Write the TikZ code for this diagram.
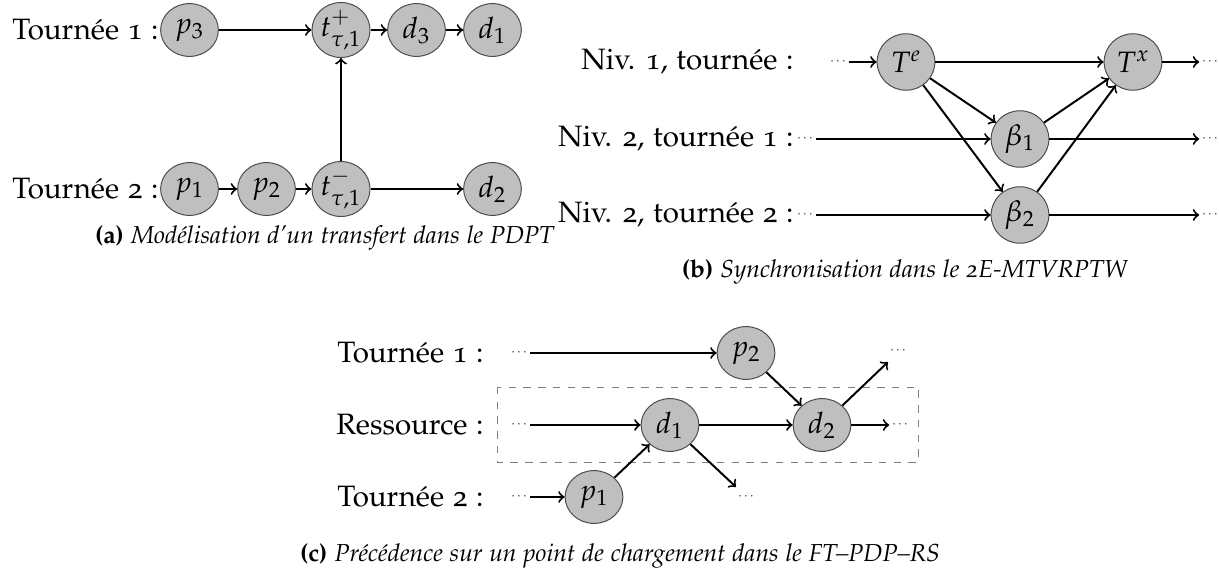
\documentclass[tikz,border=0pt]{standalone}
\usepackage[T1]{fontenc}
\usepackage[osf]{mathpazo}
\usetikzlibrary{positioning,shapes.geometric,arrows}
\tikzstyle{sommet}=[ellipse, draw=black!70, fill=black!25, minimum width=23.5pt,
        minimum height=21.5pt, inner sep=0pt, font=\large]
\tikzstyle{etiquette}=[anchor=east, inner sep=0pt, font=\large]
\tikzstyle{points}=[inner sep=1pt, font=\tiny]
\tikzstyle{legende}=[inner sep=0pt, font=\normalsize]
\tikzstyle{fleche}=[->, thick]

\begin{document}
\begin{tikzpicture}[x=0.407pt, y=-0.407pt]
        \useasboundingbox (0,0) rectangle (1219,581);
        % (a) transfert
        \node (tour1a) [etiquette] at (159,30) {Tourn\'ee 1 :};
        \node (tour2a) [etiquette] at (159,189) {Tourn\'ee 2 :};
        \node (p3a) [sommet] at (189.5,30) {$p_3$};
        \node (tpa) [sommet] at (341,30) {$t^{+}_{\tau,1}$};
        \node (d3a) [sommet] at (416.5,30) {$d_3$};
        \node (d1a) [sommet] at (492.5,30) {$d_1$};
        \node (p1a) [sommet] at (189.5,189) {$p_1$};
        \node (p2a) [sommet] at (266.5,189) {$p_2$};
        \node (tma) [sommet] at (341,189) {$t^{-}_{\tau,1}$};
        \node (d2a) [sommet] at (492.5,189) {$d_2$};
        \draw[fleche] (p3a) -- (tpa);
        \draw[fleche] (tpa) -- (d3a);
        \draw[fleche] (d3a) -- (d1a);
        \draw[fleche] (p1a) -- (p2a);
        \draw[fleche] (p2a) -- (tma);
        \draw[fleche] (tma) -- (d2a);
        \draw[fleche] (tma) -- (tpa);
        \node (lega) [legende] at (325,238) {\textbf{(a)} \textit{Mod\'elisation d'un transfert dans le PDPT}};

        % (b) synchronisation
        \node (niv1) [etiquette] at (794,62) {Niv. 1, tourn\'ee :};
        \node (niv21) [etiquette] at (794,139) {Niv. 2, tourn\'ee 1 :};
        \node (niv22) [etiquette] at (794,215) {Niv. 2, tourn\'ee 2 :};
        \node (g1) [points] at (838,62) {$\cdots$};
        \node (g2) [points] at (805,139) {$\cdots$};
        \node (g3) [points] at (805,215) {$\cdots$};
        \node (r1) [points] at (1210,62) {$\cdots$};
        \node (r2) [points] at (1210,139) {$\cdots$};
        \node (r3) [points] at (1210,215) {$\cdots$};
        \node (Te) [sommet, minimum height=23pt] at (906,62) {$T^{e}$};
        \node (Tx) [sommet, minimum height=23pt] at (1133,62) {$T^{x}$};
        \node (b1) [sommet, minimum height=23pt] at (1020,139) {$\beta_1$};
        \node (b2) [sommet, minimum height=23pt] at (1020,215) {$\beta_2$};
        \draw[fleche] (g1) -- (Te);
        \draw[fleche] (Te) -- (Tx);
        \draw[fleche] (Tx) -- (r1);
        \draw[fleche] (g2) -- (b1);
        \draw[fleche] (b1) -- (r2);
        \draw[fleche] (g3) -- (b2);
        \draw[fleche] (b2) -- (r3);
        \draw[fleche] (Te) -- (b1);
        \draw[fleche] (Te) -- (b2);
        \draw[fleche] (b1) -- (Tx);
        \draw[fleche] (b2) -- (Tx);
        \node (legb) [legende] at (905,272) {\textbf{(b)} \textit{Synchronisation dans le 2E-MTVRPTW}};

        % (c) precedence
        \draw[dashed, gray] (497,387) rectangle (918,462);
        \node (tour1c) [etiquette] at (484,353) {Tourn\'ee 1 :};
        \node (ress) [etiquette] at (484,425) {Ressource :};
        \node (tour2c) [etiquette] at (484,497) {Tourn\'ee 2 :};
        \node (gc1) [points] at (519,353) {$\cdots$};
        \node (gc2) [points] at (519,425) {$\cdots$};
        \node (gc3) [points] at (519,497) {$\cdots$};
        \node (p2c) [sommet] at (746,353) {$p_2$};
        \node (d1c) [sommet] at (670,425) {$d_1$};
        \node (d2c) [sommet] at (822,425) {$d_2$};
        \node (p1c) [sommet] at (594,497) {$p_1$};
        \node (dc1) [points] at (898,351) {$\cdots$};
        \node (dc2) [points] at (900,425) {$\cdots$};
        \node (dc3) [points] at (746,497) {$\cdots$};
        \coordinate (fin1) at (888,362);
        \coordinate (fin3) at (736,487);
        \draw[fleche] (gc1) -- (p2c);
        \draw[fleche] (gc2) -- (d1c);
        \draw[fleche] (gc3) -- (p1c);
        \draw[fleche] (d1c) -- (d2c);
        \draw[fleche] (d2c) -- (dc2);
        \draw[fleche] (p2c) -- (d2c);
        \draw[fleche] (p1c) -- (d1c);
        \draw[fleche] (d2c) -- (fin1);
        \draw[fleche] (d1c) -- (fin3);
        \node (legc) [legende] at (620,556) {\textbf{(c)} \textit{Pr\'ec\'edence sur un point de chargement dans le FT--PDP--RS}};
\end{tikzpicture}
\end{document}
